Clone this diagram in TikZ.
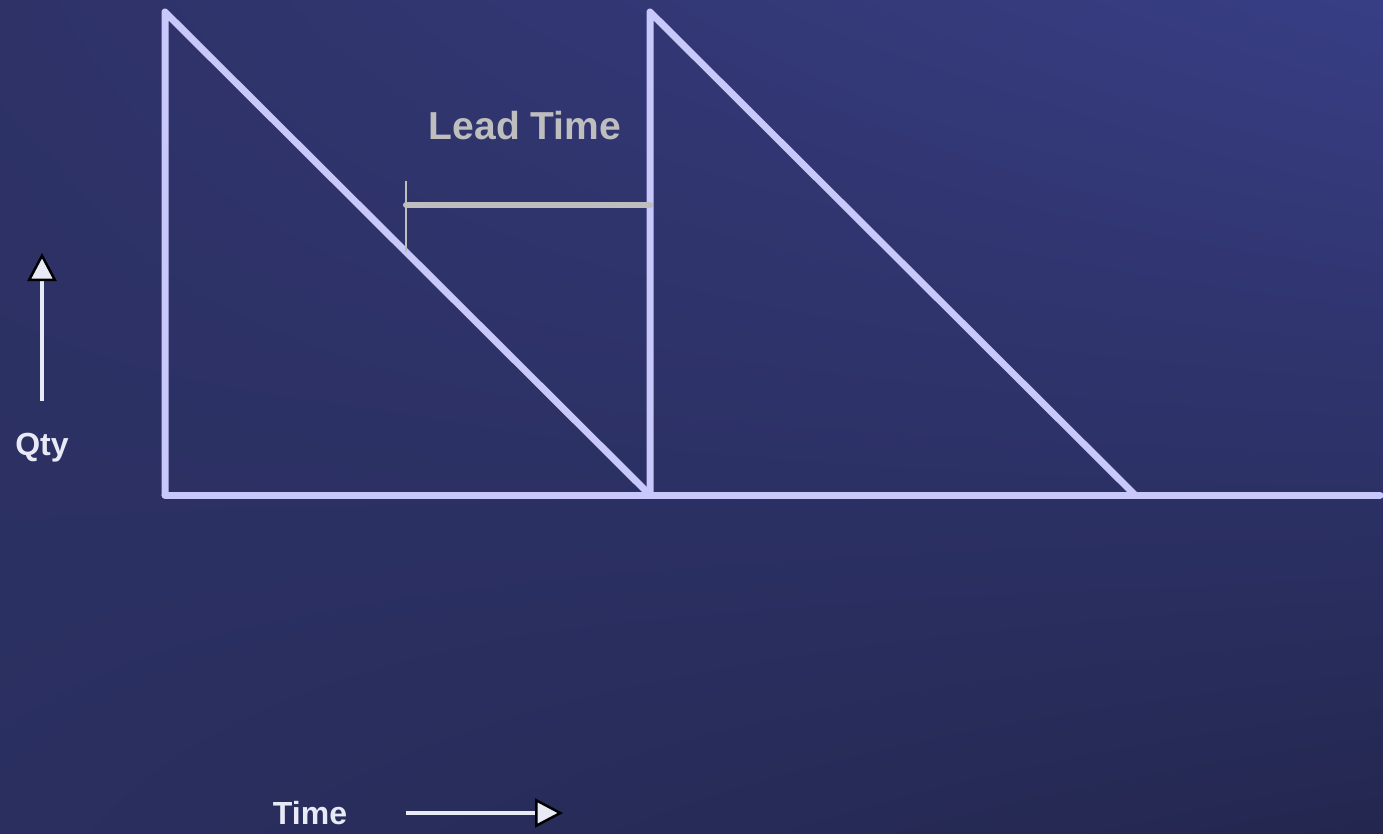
\documentclass[tikz,border=0pt]{standalone}
\usepackage{fontspec}
\setmainfont{Liberation Sans}
\usetikzlibrary{arrows.meta,shadings}
\definecolor{stockline}{HTML}{C8C8FA}
\definecolor{leadgray}{HTML}{BEBEBE}
\definecolor{labwhite}{HTML}{E8EAF6}
\definecolor{bgul}{HTML}{2E3267}
\definecolor{bgur}{HTML}{383E85}
\definecolor{bgll}{HTML}{2A2F60}
\definecolor{bglr}{HTML}{23274F}

\begin{document}
\begin{tikzpicture}[x=1pt,y=-1pt,
  stock/.style={draw=stockline,line width=7pt,line cap=round,line join=round},
  lbl/.style={text=labwhite,font=\bfseries\fontsize{32}{36}\selectfont},
  axarr/.style={draw=labwhite,line width=4pt,-{Triangle[length=28pt,width=29pt,color=black,fill=labwhite,line width=2.5pt]}}]
\useasboundingbox (0,0) rectangle (1383,834);
\shade[upper left=bgul,upper right=bgur,lower left=bgll,lower right=bglr] (0,0) rectangle (1383,834);
% sawtooth stock level
\coordinate (o1) at (165,495);
\coordinate (top1) at (165,12);
\coordinate (o2) at (650,495);
\coordinate (top2) at (650,12);
\coordinate (zero2) at (1135,495);
\coordinate (axend) at (1380,495);
\draw[stock] (o1) -- (top1) -- (o2);
\draw[stock] (o2) -- (top2) -- (zero2);
\draw[stock] (o1) -- (axend);
% lead time
\node[font=\bfseries\fontsize{39}{44}\selectfont,text=leadgray] (lead) at (525,126) {Lead Time};
\coordinate (reorder) at (406,205);
\coordinate (arrive) at (650,205);
\coordinate (ticktop) at (406,181);
\coordinate (tickbot) at (406,252);
\draw[leadgray,line width=1.5pt] (ticktop) -- (tickbot);
\draw[leadgray,line width=6pt,line cap=round] (reorder) -- (arrive);
% axis labels
\node[lbl] (qty) at (42,448) {Qty};
\coordinate (qtyfoot) at (42,401);
\coordinate (qtyhead) at (42,253);
\draw[axarr] (qtyfoot) -- (qtyhead);
\node[lbl] (time) at (310,813) {Time};
\coordinate (timefoot) at (406,813);
\coordinate (timehead) at (563,813);
\draw[axarr] (timefoot) -- (timehead);
\end{tikzpicture}
\end{document}
